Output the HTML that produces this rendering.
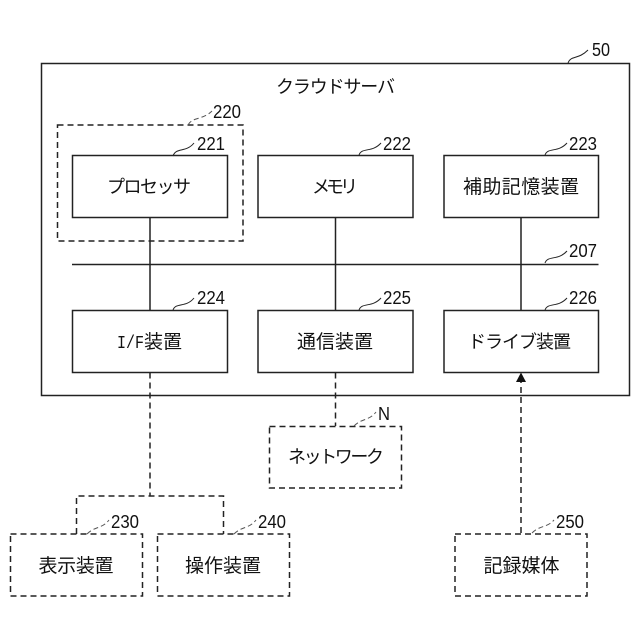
<!DOCTYPE html>
<html lang="ja">
<head>
<meta charset="utf-8">
<style>
html,body{margin:0;padding:0;background:#fff}
svg{display:block}
text{font-family:"Liberation Sans","Noto Sans CJK JP",sans-serif;fill:#111}
.l{font-size:18px}
.k{font-size:19px}
.n{font-size:18px}
.s{fill:none;stroke:#222;stroke-width:1.5}
.d{fill:none;stroke:#222;stroke-width:1.5;stroke-dasharray:6 4}
.c{fill:none;stroke:#222;stroke-width:1}
.e{fill:none;stroke:#555;stroke-width:1;stroke-dasharray:5 3}
</style>
</head>
<body>
<svg width="640" height="640" viewBox="0 0 640 640" xmlns="http://www.w3.org/2000/svg">
<rect class="s" x="41.500" y="63.500" width="588" height="332"/>
<rect class="d" x="57.500" y="125" width="185.500" height="116"/>
<rect class="s" x="72.500" y="155.500" width="155" height="62"/>
<rect class="s" x="258" y="155.500" width="155" height="62"/>
<rect class="s" x="444" y="155.500" width="154.500" height="62"/>
<rect class="s" x="72.500" y="310.500" width="155" height="62"/>
<rect class="s" x="258" y="310.500" width="155" height="62"/>
<rect class="s" x="444" y="310.500" width="154.500" height="62"/>
<path class="s" d="M72 264.500H598.500M150 217.500V310.500M335.500 217.500V310.500M521 217.500V310.500"/>
<path class="d" d="M150 372.500V496M335.500 372.500V426"/>
<path class="d" d="M521 533V380"/>
<path d="M521 372.500L526 382H516Z" fill="#111"/>
<path class="d" d="M76.500 534V496H223.500V534"/>
<rect class="d" x="269.500" y="426.500" width="132" height="61.500"/>
<rect class="d" x="10.500" y="534" width="132" height="62"/>
<rect class="d" x="157.500" y="534" width="132" height="62"/>
<rect class="d" x="455" y="534" width="132" height="62"/>

<path class="c" d="M568 63C571 55 578 60 588 50"/>
<path class="c" d="M173 156C176 147 186 153 194 143"/>
<path class="c" d="M359 155C362 147 372 153 381 143"/>
<path class="c" d="M545 155C548 147 558 153 567 143"/>
<path class="c" d="M545 263C548 255 558 261 567 251"/>
<path class="c" d="M173 310C176 302 186 308 194 298"/>
<path class="c" d="M359 310C362 302 372 308 381 298"/>
<path class="c" d="M545 310C548 302 558 308 567 298"/>
<path class="e" d="M188 125C192 117 203 120 212 111"/>
<path class="e" d="M87 534C95 526 102 529 109 520"/>
<path class="e" d="M234 534C242 526 249 529 256 520"/>
<path class="e" d="M532 533C540 525 547 528 554 520"/>
<path class="e" d="M354 426C362 418 369 421 376 412"/>

<text class="n" x="592" y="56" textLength="18" lengthAdjust="spacingAndGlyphs">50</text>
<text class="n" x="213" y="118" textLength="28" lengthAdjust="spacingAndGlyphs">220</text>
<text class="n" x="197" y="150" textLength="28" lengthAdjust="spacingAndGlyphs">221</text>
<text class="n" x="383" y="150" textLength="28" lengthAdjust="spacingAndGlyphs">222</text>
<text class="n" x="569" y="150" textLength="28" lengthAdjust="spacingAndGlyphs">223</text>
<text class="n" x="569" y="257" textLength="28" lengthAdjust="spacingAndGlyphs">207</text>
<text class="n" x="197" y="304" textLength="28" lengthAdjust="spacingAndGlyphs">224</text>
<text class="n" x="383" y="304" textLength="28" lengthAdjust="spacingAndGlyphs">225</text>
<text class="n" x="569" y="304" textLength="28" lengthAdjust="spacingAndGlyphs">226</text>
<text class="n" x="378" y="420" textLength="12" lengthAdjust="spacingAndGlyphs">N</text>
<text class="n" x="111" y="528" textLength="28" lengthAdjust="spacingAndGlyphs">230</text>
<text class="n" x="258" y="528" textLength="28" lengthAdjust="spacingAndGlyphs">240</text>
<text class="n" x="556" y="528" textLength="28" lengthAdjust="spacingAndGlyphs">250</text>

<text class="l" x="276" y="93" textLength="119" lengthAdjust="spacing">クラウドサーバ</text>
<text class="l" x="107" y="193" textLength="84" lengthAdjust="spacing">プロセッサ</text>
<text class="l" x="312" y="193" textLength="46" lengthAdjust="spacing">メモリ</text>
<text class="k" x="463" y="193" textLength="116" lengthAdjust="spacing">補助記憶装置</text>
<text x="117" y="348" font-size="18" style="font-family:'Liberation Mono',monospace" textLength="27" lengthAdjust="spacingAndGlyphs">I/F</text>
<text class="k" x="144" y="348" textLength="38" lengthAdjust="spacing">装置</text>
<text class="k" x="297" y="348" textLength="76" lengthAdjust="spacing">通信装置</text>
<text class="l" x="468" y="348" textLength="103" lengthAdjust="spacing">ドライブ装置</text>
<text class="l" x="288" y="463" textLength="96" lengthAdjust="spacing">ネットワーク</text>
<text class="k" x="38.500" y="572" textLength="75" lengthAdjust="spacing">表示装置</text>
<text class="k" x="185" y="572" textLength="76" lengthAdjust="spacing">操作装置</text>
<text class="k" x="483.500" y="572" textLength="76" lengthAdjust="spacing">記録媒体</text>
</svg>
</body>
</html>
